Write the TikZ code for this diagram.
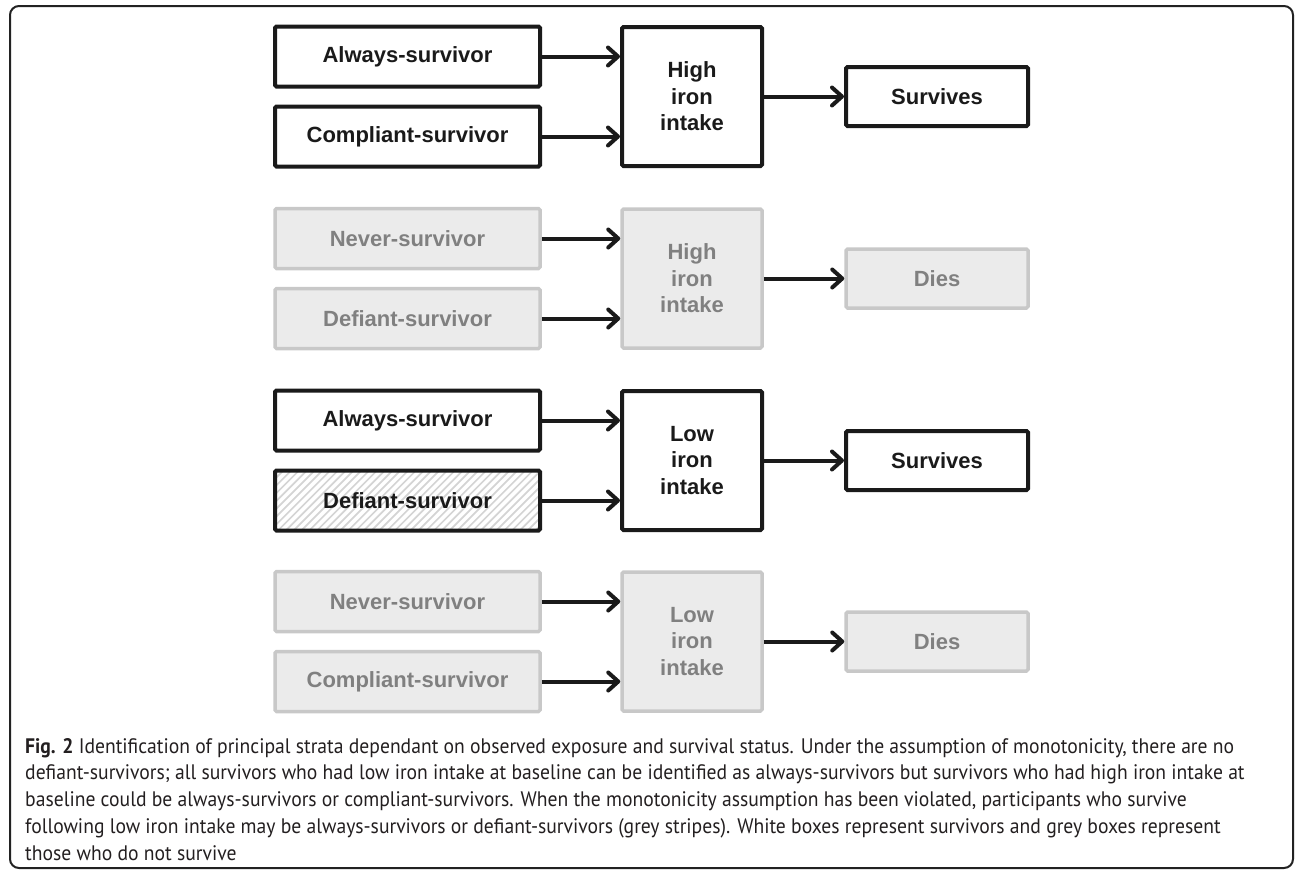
\documentclass[tikz,border=0pt]{standalone}
\usepackage{fontspec}
\newfontfamily\boxfont{Liberation Sans}
\newfontfamily\capfont[FakeStretch=0.935]{PT Sans}
\usetikzlibrary{arrows.meta}
\definecolor{ink}{HTML}{1A1A1A}
\definecolor{gborder}{HTML}{C8C8C8}
\definecolor{gfill}{HTML}{EBEBEB}
\definecolor{gtext}{HTML}{808080}
\definecolor{hatchc}{HTML}{D4D4D4}
\definecolor{framec}{HTML}{222222}
\definecolor{captext}{HTML}{231F20}
\begin{document}
\begin{tikzpicture}[x=1pt,y=-1pt,
  box/.style={rectangle, inner sep=0pt, draw=ink, fill=white, line width=4pt, rounded corners=1.5pt,
    font=\boxfont\bfseries\fontsize{22}{26.5}\selectfont, text=ink, align=center},
  gbox/.style={box, draw=gborder, fill=gfill, line width=3.5pt, text=gtext},
  side/.style={minimum width=265pt, minimum height=60pt},
  mid/.style={minimum width=140pt, minimum height=139pt},
  outc/.style={minimum width=182pt, minimum height=59pt},
  hatched/.style={path picture={
      \foreach \i in {0,...,45}{
        \draw[hatchc, line width=1.7pt] ([xshift=\i*7.8pt-75pt]path picture bounding box.south west) -- ++(80pt,80pt);
      }}},
  arr/.style={ink, line width=4pt, line cap=butt,
    -{Straight Barb[length=10pt,width=18pt,line cap=round,line join=round]}}
]
\useasboundingbox (0,0) rectangle (1295,870);
\draw[framec, line width=2pt, rounded corners=9pt] (10,6) rectangle (1293,868);

% Block 1
\node[box,side] (a1) at (407.5,56.5) {Always-survivor};
\node[box,side] (b1) at (407.5,136.5) {Compliant-survivor};
\node[box,mid]  (m1) at (692,96.5) {High\\iron\\intake};
\node[box,outc] (o1) at (937,96.5) {Survives};
% Block 2
\node[gbox,side] (a2) at (407.5,238.5) {Never-survivor};
\node[gbox,side] (b2) at (407.5,318.5) {Defiant-survivor};
\node[gbox,mid]  (m2) at (692,278.5) {High\\iron\\intake};
\node[gbox,outc] (o2) at (937,278.5) {Dies};
% Block 3
\node[box,side] (a3) at (407.5,420.5) {Always-survivor};
\node[box,side,hatched] (b3) at (407.5,500.5) {Defiant-survivor};
\node[box,mid]  (m3) at (692,460.5) {Low\\iron\\intake};
\node[box,outc] (o3) at (937,460.5) {Survives};
% Block 4
\node[gbox,side] (a4) at (407.5,601.5) {Never-survivor};
\node[gbox,side] (b4) at (407.5,681.5) {Compliant-survivor};
\node[gbox,mid]  (m4) at (692,641.5) {Low\\iron\\intake};
\node[gbox,outc] (o4) at (937,641.5) {Dies};

\foreach \k in {1,2,3,4}{
  \draw[arr] (a\k.east) -- (a\k.east -| m\k.west);
  \draw[arr] (b\k.east) -- (b\k.east -| m\k.west);
  \draw[arr] (m\k.east) -- (o\k.west);
}

\node[anchor=north west, align=left, inner sep=0pt, text=captext,
  font=\capfont\fontsize{21}{26.7}\selectfont] (cap) at (25,738)
 {\textbf{Fig. 2} Identification of principal strata dependant on observed exposure and survival status. Under the assumption of monotonicity, there are no\\
 defiant-survivors; all survivors who had low iron intake at baseline can be identified as always-survivors but survivors who had high iron intake at\\
 baseline could be always-survivors or compliant-survivors. When the monotonicity assumption has been violated, participants who survive\\
 following low iron intake may be always-survivors or defiant-survivors (grey stripes). White boxes represent survivors and grey boxes represent\\
 those who do not survive};
\end{tikzpicture}
\end{document}
